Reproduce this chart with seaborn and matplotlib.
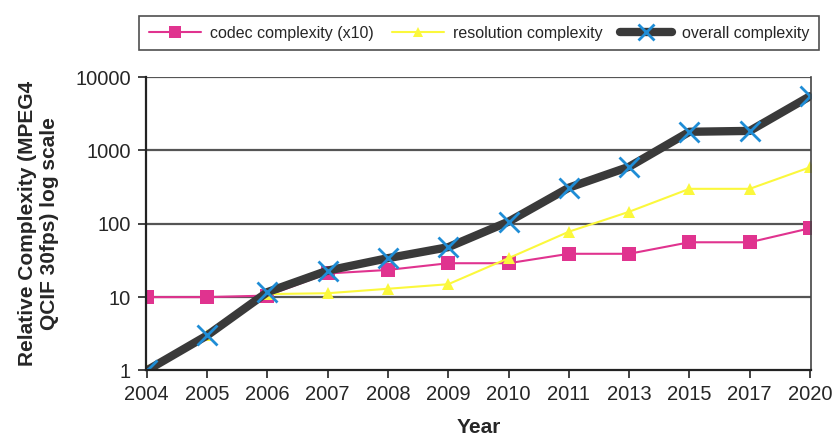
import pandas as pd
import numpy as np
import matplotlib
matplotlib.use('Agg')
import matplotlib.pyplot as plt
import matplotlib.ticker as mticker
import seaborn as sns

years = ['2004', '2005', '2006', '2007', '2008', '2009', '2010', '2011', '2013', '2015', '2017', '2020']
codec = [10, 10, 10.5, 21, 23.5, 29, 29, 39, 39, 56, 56, 87]
resolution = [1, 3, 11, 11.3, 13, 15, 34, 78, 146, 300, 300, 590]
overall = [1, 3, 11.7, 23, 34, 48, 107, 311, 600, 1800, 1850, 5500]

series_names = ['codec complexity (x10)', 'resolution complexity', 'overall complexity']

df = pd.DataFrame({
    'Year': years * 3,
    'value': codec + resolution + overall,
    'series': [series_names[0]] * len(years) + [series_names[1]] * len(years) + [series_names[2]] * len(years),
})

sns.set_style('white')
plt.rcParams['font.family'] = ['Liberation Sans', 'DejaVu Sans']

fig, ax = plt.subplots(figsize=(8.32, 4.41), dpi=100)
fig.subplots_adjust(left=0.175, right=0.975, top=0.825, bottom=0.16)

# gridlines first so the lines sit on top
ax.set_yscale('log')
ax.set_ylim(1, 10000)
for v in [10, 100, 1000, 10000]:
    ax.axhline(v, color='#555555', lw=1.6, zorder=0)

sns.lineplot(data=df[df['series'] == series_names[0]], x='Year', y='value', ax=ax,
             color='#e0338f', lw=1.5, marker='s', markersize=10, markeredgewidth=0,
             label=series_names[0], sort=False)
sns.lineplot(data=df[df['series'] == series_names[1]], x='Year', y='value', ax=ax,
             color='#fbf83c', lw=1.5, marker='^', markersize=9, markeredgewidth=0,
             label=series_names[1], sort=False)
sns.lineplot(data=df[df['series'] == series_names[2]], x='Year', y='value', ax=ax,
             color='#3a3a3a', lw=6, marker='x', markersize=14, markeredgewidth=2,
             markeredgecolor='#1f8dd6', label=series_names[2], sort=False)

ax.set_xlim(-0.02, len(years) - 1 + 0.02)
ax.yaxis.set_major_locator(mticker.FixedLocator([1, 10, 100, 1000, 10000]))
ax.yaxis.set_major_formatter(mticker.FixedFormatter(['1', '10', '100', '1000', '10000']))
ax.yaxis.set_minor_locator(mticker.NullLocator())
ax.tick_params(axis='both', which='major', direction='out', length=5.5, width=1.2,
               color='#222222', labelsize=14.5, pad=5, left=True, bottom=True)

for side in ['left', 'bottom']:
    ax.spines[side].set_color('#222222')
    ax.spines[side].set_linewidth(1.6)
ax.spines['right'].set_color('#444444')
ax.spines['right'].set_linewidth(1.2)
ax.spines['top'].set_visible(False)

ax.set_xlabel('Year', fontsize=15, fontweight='bold', labelpad=10)
ax.set_ylabel('Relative Complexity (MPEG4\nQCIF 30fps) log scale', fontsize=15,
              fontweight='bold', labelpad=12)

leg = ax.legend(loc='lower center', bbox_to_anchor=(0.501, 1.092), ncol=3, frameon=True,
                fancybox=False, edgecolor='#222222', fontsize=11.5, handlelength=3.25,
                handletextpad=0.6, columnspacing=1.1, markerscale=0.85, borderpad=0.6,
                borderaxespad=0)
leg.get_frame().set_linewidth(1.2)

plt.savefig('out.png', dpi=100)
